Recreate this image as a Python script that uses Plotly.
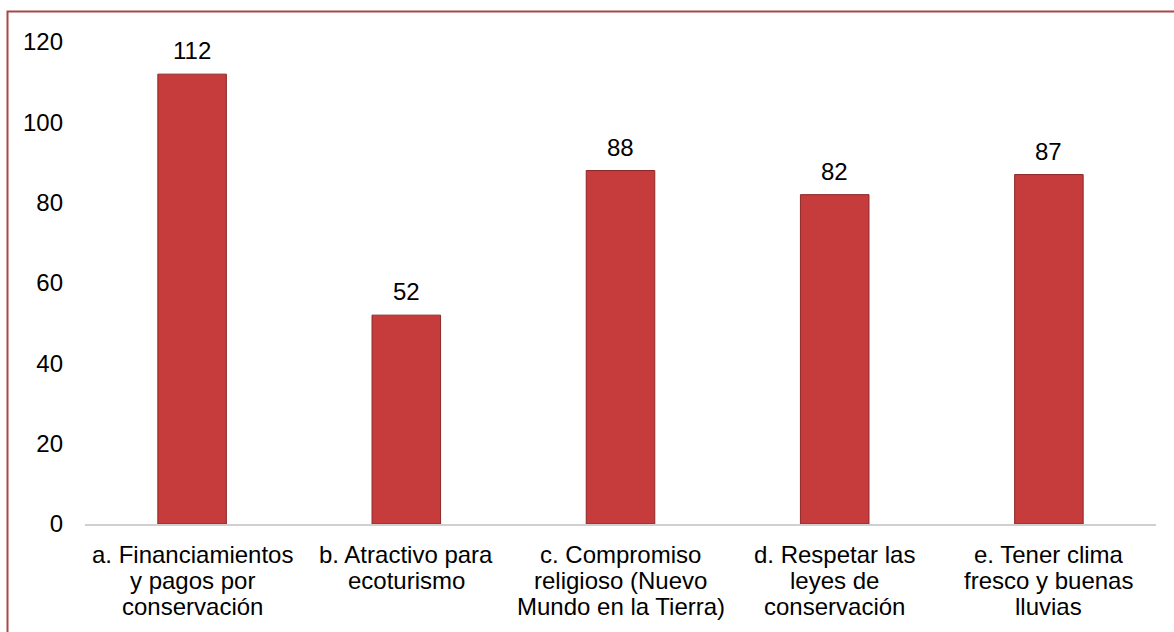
import plotly.graph_objects as go

categories = ["a", "b", "c", "d", "e"]
tick_labels = [
    ["a. Financiamientos", "y pagos por", "conservación"],
    ["b. Atractivo para", "ecoturismo"],
    ["c. Compromiso", "religioso (Nuevo", "Mundo en la Tierra)"],
    ["d. Respetar las", "leyes de", "conservación"],
    ["e. Tener clima", "fresco y buenas", "lluvias"],
]
values = [112, 52, 88, 82, 87]

W, H = 1174, 632
L, R, T, B = 85, 18, 42, 108
FS = 24

fig = go.Figure()
fig.add_trace(go.Bar(
    x=categories, y=values, width=0.32,
    marker=dict(color="#C63B3B", line=dict(color="#8E2828", width=1)),
    hoverinfo="skip",
))
for c, v in zip(categories, values):
    fig.add_annotation(x=c, y=v, text=str(v), showarrow=False, yanchor="bottom",
                       yshift=8, font=dict(size=FS, color="#000000"))

for c, lines in zip(categories, tick_labels):
    for i, line in enumerate(lines):
        fig.add_annotation(x=c, xref="x", y=0, yref="paper", text=line, showarrow=False,
                           yanchor="middle", yshift=-(30 + 26 * i),
                           font=dict(size=FS, color="#000000"))

pw = W - L - R
ph = H - T - B
fig.add_shape(type="rect", xref="paper", yref="paper",
              x0=(7.5 - L) / pw, x1=(W + 20 - L) / pw,
              y0=-(H + 20 - T - ph) / ph, y1=(H - 11.5 - B) / ph,
              line=dict(color="#A84848", width=2), fillcolor="rgba(0,0,0,0)", layer="below")

fig.update_layout(
    width=W, height=H,
    margin=dict(l=L, r=R, t=T, b=B),
    plot_bgcolor="white", paper_bgcolor="white",
    font=dict(family="Liberation Sans, Arial, sans-serif", size=FS, color="#000000"),
    showlegend=False,
    xaxis=dict(showticklabels=False, showgrid=False,
               showline=True, linecolor="#D0D0D0", linewidth=1.5, ticks=""),
    yaxis=dict(range=[0, 120], dtick=20, showgrid=False, zeroline=False,
               showline=False, ticks="", ticklabelstandoff=21, tickfont=dict(size=FS)),
)
fig.write_html("out.html", config={"displayModeBar": False},
               post_script="document.body.style.margin='0';")
